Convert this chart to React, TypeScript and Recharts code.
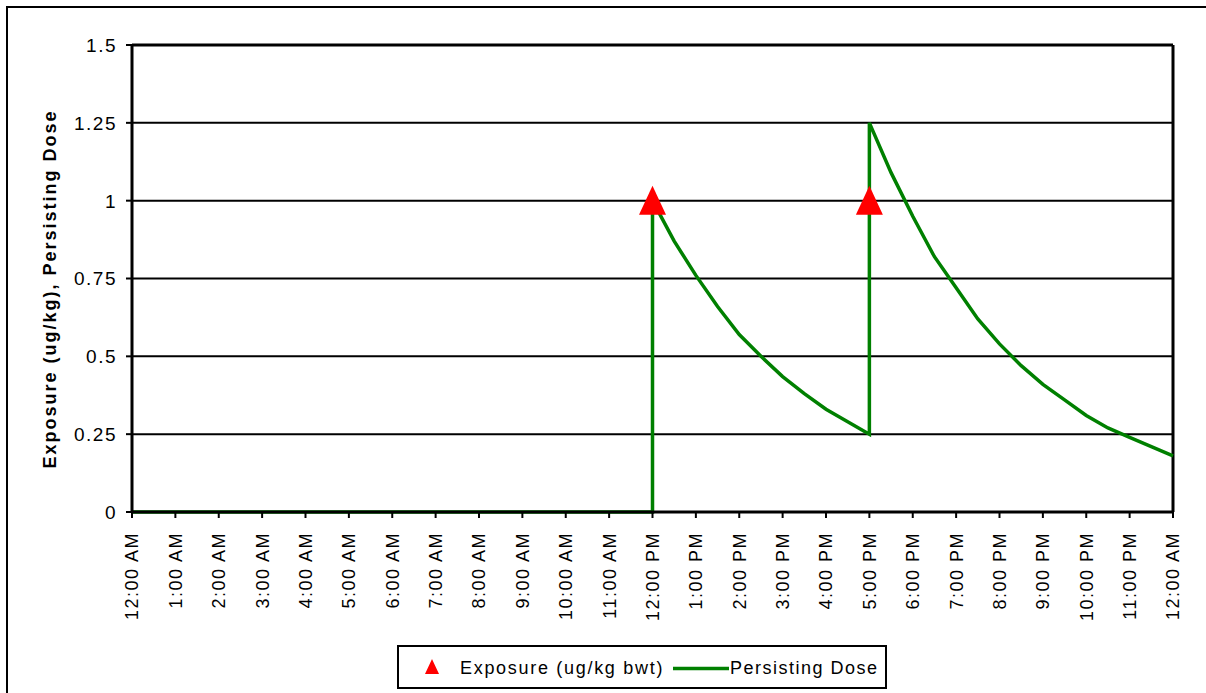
import React from "react";
import {
  ComposedChart,
  Line,
  Scatter,
  XAxis,
  YAxis,
  CartesianGrid,
  ReferenceLine,
} from "recharts";

// time of day in hours (0 = midnight)
const hourTicks = [0, 1, 2, 3, 4, 5, 6, 7, 8, 9, 10, 11, 12, 13, 14, 15, 16, 17, 18, 19, 20, 21, 22, 23, 24];
const hourLabels = [
  "12:00 AM", "1:00 AM", "2:00 AM", "3:00 AM", "4:00 AM", "5:00 AM", "6:00 AM",
  "7:00 AM", "8:00 AM", "9:00 AM", "10:00 AM", "11:00 AM", "12:00 PM", "1:00 PM",
  "2:00 PM", "3:00 PM", "4:00 PM", "5:00 PM", "6:00 PM", "7:00 PM", "8:00 PM",
  "9:00 PM", "10:00 PM", "11:00 PM", "12:00 AM",
];
const yTicks = [0, 0.25, 0.5, 0.75, 1, 1.25, 1.5];

// persisting dose
const doseHours = [0, 12, 12, 12.5, 13, 13.5, 14, 14.5, 15, 15.5, 16, 16.5, 17, 17, 17.5, 18, 18.5, 19, 19.5, 20, 20.5, 21, 21.5, 22, 22.5, 23, 23.5, 24];
const doseValues = [0, 0, 1, 0.87, 0.76, 0.66, 0.57, 0.5, 0.435, 0.38, 0.33, 0.29, 0.25, 1.25, 1.09, 0.95, 0.82, 0.72, 0.62, 0.54, 0.47, 0.41, 0.36, 0.31, 0.27, 0.24, 0.21, 0.18];

// exposure events
const exposureHours = [12, 17];
const exposureValues = [1, 1];

const doseData = doseHours.map((h, i) => ({ hour: h, dose: doseValues[i] }));
const exposureData = exposureHours.map((h, i) => ({ hour: h, exposure: exposureValues[i] }));

const FONT = "'Liberation Sans', Arial, sans-serif";
const GREEN = "#008000";
const RED = "#ff0000";

const Triangle = (props: any) => {
  const { cx, cy } = props;
  if (cx == null || cy == null) return <g />;
  return (
    <polygon
      points={`${cx},${cy - 15} ${cx - 13.5},${cy + 14} ${cx + 13.5},${cy + 14}`}
      fill={RED}
    />
  );
};

const XTick = (props: any) => {
  const { x, y, payload } = props;
  const label = hourLabels[hourTicks.indexOf(payload.value)];
  return (
    <text
      x={x}
      y={y}
      dy="0.36em"
      transform={`rotate(-90, ${x}, ${y})`}
      textAnchor="end"
      fontFamily={FONT}
      fontSize={18}
      letterSpacing={1.5}
      fill="#000"
    >
      {label}
    </text>
  );
};

const YTick = (props: any) => {
  const { x, y, payload } = props;
  return (
    <text
      x={x}
      y={y}
      dy="0.36em"
      textAnchor="end"
      fontFamily={FONT}
      fontSize={19}
      letterSpacing={1.5}
      fill="#000"
    >
      {payload.value}
    </text>
  );
};

const YTitle = () => (
  <text
    x={56}
    y={289}
    transform="rotate(-90, 56, 289)"
    textAnchor="middle"
    fontFamily={FONT}
    fontSize={18}
    fontWeight="bold"
    letterSpacing={2}
    fill="#000"
  >
    Exposure (ug/kg), Persisting Dose
  </text>
);

export default function App() {
  return (
    <div style={{ position: "relative", width: 1206, height: 693, background: "#fff", overflow: "hidden" }}>
      <style>{"body{margin:0;overflow:hidden;background:#fff}"}</style>
      <div
        style={{
          position: "absolute",
          left: 6,
          top: 6,
          width: 1300,
          height: 800,
          borderTop: "2px solid #000",
          borderLeft: "2px solid #000",
        }}
      />
      <div style={{ position: "absolute", left: 0, top: 0 }}>
        <ComposedChart
          width={1206}
          height={640}
          data={doseData}
          margin={{ top: 45, right: 33, left: 0, bottom: 0 }}
        >
          <CartesianGrid vertical={false} stroke="#000" strokeWidth={2} />
          <XAxis
            dataKey="hour"
            type="number"
            domain={[0, 24]}
            ticks={hourTicks}
            interval={0}
            height={128}
            tickSize={6}
            tickMargin={14}
            tick={<XTick />}
            axisLine={{ stroke: "#000", strokeWidth: 3 }}
            tickLine={{ stroke: "#000", strokeWidth: 2 }}
          />
          <YAxis
            type="number"
            domain={[0, 1.5]}
            ticks={yTicks}
            width={132}
            tickSize={6}
            tickMargin={9}
            tick={<YTick />}
            axisLine={{ stroke: "#000", strokeWidth: 3 }}
            tickLine={{ stroke: "#000", strokeWidth: 2 }}
            label={<YTitle />}
          />
          <ReferenceLine y={1.5} stroke="#000" strokeWidth={3} />
          <ReferenceLine x={24} stroke="#000" strokeWidth={3} />
          <Line
            dataKey="dose"
            type="linear"
            stroke={GREEN}
            strokeWidth={3.5}
            dot={false}
            isAnimationActive={false}
          />
          <Scatter
            data={exposureData}
            dataKey="exposure"
            shape={<Triangle />}
            isAnimationActive={false}
          />
        </ComposedChart>
      </div>
      <div
        style={{
          position: "absolute",
          left: 397,
          top: 645,
          width: 486,
          height: 40,
          border: "2px solid #000",
          background: "#fff",
        }}
      >
        <svg width={486} height={40} style={{ display: "block" }}>
          <polygon points="33,12 26,27 40,27" fill={RED} />
          <text x={61} y={27} fontFamily={FONT} fontSize={18} letterSpacing={1.7} fill="#000">
            Exposure (ug/kg bwt)
          </text>
          <line x1={274} y1={21.5} x2={330} y2={21.5} stroke={GREEN} strokeWidth={3.5} />
          <text x={331} y={27} fontFamily={FONT} fontSize={18} letterSpacing={1.5} fill="#000">
            Persisting Dose
          </text>
        </svg>
      </div>
    </div>
  );
}
